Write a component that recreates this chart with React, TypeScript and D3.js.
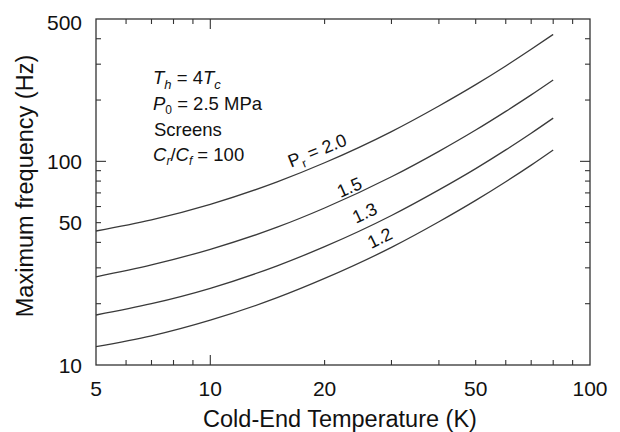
import React, { useRef, useEffect } from "react";
import * as d3 from "d3";

// cold-end temperature (K) sample points
const temps = [5, 7, 10, 15, 20, 30, 40, 50, 60, 70, 80];
// maximum frequency (Hz) for each pressure ratio
const freqPr20 = [45.5, 51.6, 61.5, 79.3, 98.4, 140, 187, 238, 294, 355, 420];
const freqPr15 = [27.1, 31, 37, 47.5, 59, 84, 112, 142.5, 176, 212, 251];
const freqPr13 = [17.6, 20, 23.8, 30.7, 38.1, 54.2, 72.4, 92.1, 113.8, 137.4, 163];
const freqPr12 = [12.3, 13.9, 16.6, 21.4, 26.6, 37.8, 50.5, 64.3, 79.4, 95.8, 113.7];

const series = [freqPr20, freqPr15, freqPr13, freqPr12];

// curve labels: text, anchor temperature, anchor frequency, angle
const labelText = ["2.0", "1.5", "1.3", "1.2"];
const labelT = [19.4, 23.6, 25.9, 28.4];
const labelF = [106, 70, 52.4, 39.5];
const labelAngle = [-22, -24, -25, -26];

const xTickLabels = [5, 10, 20, 50, 100];
const xMajor = [10];
const xMinor = [6, 7, 8, 9, 20, 30, 40, 50, 60, 70, 80, 90];
const yTickLabels = [10, 50, 100, 500];
const yMajor = [100];
const yMinor = [20, 30, 40, 50, 60, 70, 80, 90, 200, 300, 400];

const FONT = "'Liberation Sans', Arial, Helvetica, sans-serif";
const INK = "#333";

const Chart = () => {
  const ref = useRef(null);

  useEffect(() => {
    if (!ref.current) return;
    const svg = d3.select(ref.current);
    svg.selectAll("*").remove();

    const width = 620;
    const height = 432;
    const margins = { left: 96, right: 30, top: 19, bottom: 67 };
    const w = width - margins.left - margins.right;
    const h = height - margins.top - margins.bottom;

    const x = d3.scaleLog().domain([5, 100]).range([0, w]);
    const y = d3.scaleLog().domain([10, 500]).range([h, 0]);

    const g = svg
      .append("g")
      .attr("transform", "translate(" + margins.left + "," + margins.top + ")");

    // frame
    g.append("rect")
      .attr("width", w)
      .attr("height", h)
      .attr("fill", "none")
      .attr("stroke", INK)
      .attr("stroke-width", 1.3);

    // inward ticks on all sides
    const ticks = g.append("g").attr("stroke", INK).attr("stroke-width", 1.1);
    const xt = [
      ...xMajor.map((v) => ({ v, len: 10 })),
      ...xMinor.map((v) => ({ v, len: 5 })),
    ];
    xt.forEach((t) => {
      ticks.append("line").attr("x1", x(t.v)).attr("x2", x(t.v)).attr("y1", h).attr("y2", h - t.len);
      ticks.append("line").attr("x1", x(t.v)).attr("x2", x(t.v)).attr("y1", 0).attr("y2", t.len);
    });
    const yt = [
      ...yMajor.map((v) => ({ v, len: 10 })),
      ...yMinor.map((v) => ({ v, len: 5 })),
    ];
    yt.forEach((t) => {
      ticks.append("line").attr("y1", y(t.v)).attr("y2", y(t.v)).attr("x1", 0).attr("x2", t.len);
      ticks.append("line").attr("y1", y(t.v)).attr("y2", y(t.v)).attr("x1", w).attr("x2", w - t.len);
    });

    // tick labels
    g.append("g")
      .selectAll("text")
      .data(xTickLabels)
      .enter()
      .append("text")
      .attr("x", (d) => x(d))
      .attr("y", h + 31)
      .attr("text-anchor", "middle")
      .attr("font-family", FONT)
      .attr("font-size", 21)
      .attr("fill", "#111")
      .text((d) => d);

    g.append("g")
      .selectAll("text")
      .data(yTickLabels)
      .enter()
      .append("text")
      .attr("x", -14)
      .attr("y", (d) => Math.max(y(d), 3.5))
      .attr("dy", "0.36em")
      .attr("text-anchor", "end")
      .attr("font-family", FONT)
      .attr("font-size", 21)
      .attr("fill", "#111")
      .text((d) => d);

    // axis titles
    svg
      .append("text")
      .attr("x", 340)
      .attr("y", 427)
      .attr("text-anchor", "middle")
      .attr("font-family", FONT)
      .attr("font-size", 23.5)
      .attr("fill", "#111")
      .text("Cold-End Temperature (K)");

    svg
      .append("text")
      .attr("transform", "translate(33,186) rotate(-90)")
      .attr("text-anchor", "middle")
      .attr("font-family", FONT)
      .attr("font-size", 23.5)
      .attr("fill", "#111")
      .text("Maximum frequency (Hz)");

    // curves
    const line = d3
      .line()
      .x((d) => x(d[0]))
      .y((d) => y(d[1]))
      .curve(d3.curveMonotoneX);

    series.forEach((s) => {
      g.append("path")
        .datum(temps.map((t, i) => [t, s[i]]))
        .attr("d", line)
        .attr("fill", "none")
        .attr("stroke", "#3a3a3a")
        .attr("stroke-width", 1.3);
    });

    // curve labels
    labelText.forEach((txt, i) => {
      const t = g
        .append("text")
        .attr(
          "transform",
          "translate(" + x(labelT[i]) + "," + y(labelF[i]) + ") rotate(" + labelAngle[i] + ")"
        )
        .attr("text-anchor", "middle")
        .attr("font-family", FONT)
        .attr("font-size", 18)
        .attr("fill", "#111");
      if (i === 0) {
        t.append("tspan").text("P");
        t.append("tspan").attr("font-size", 12).attr("dy", 5).text("r");
        t.append("tspan").attr("dy", -5).text(" = " + txt);
      } else {
        t.text(txt);
      }
    });

    // parameter note
    const note = svg
      .append("g")
      .attr("font-family", FONT)
      .attr("font-size", 18.5)
      .attr("fill", "#111");

    const l1 = note.append("text").attr("x", 153).attr("y", 84);
    l1.append("tspan").attr("font-style", "italic").text("T");
    l1.append("tspan").attr("font-style", "italic").attr("font-size", 13).attr("dy", 5).text("h");
    l1.append("tspan").attr("dy", -5).text(" = 4");
    l1.append("tspan").attr("font-style", "italic").text("T");
    l1.append("tspan").attr("font-style", "italic").attr("font-size", 13).attr("dy", 5).text("c");

    const l2 = note.append("text").attr("x", 153).attr("y", 109.5);
    l2.append("tspan").attr("font-style", "italic").text("P");
    l2.append("tspan").attr("font-size", 12).attr("dy", 4).text("0");
    l2.append("tspan").attr("dy", -4).text(" = 2.5 MPa");

    note.append("text").attr("x", 154).attr("y", 136).text("Screens");

    const l4 = note.append("text").attr("x", 153).attr("y", 161);
    l4.append("tspan").attr("font-style", "italic").text("C");
    l4.append("tspan").attr("font-style", "italic").attr("font-size", 12).attr("dy", 4).text("r");
    l4.append("tspan").attr("dy", -4).text("/");
    l4.append("tspan").attr("font-style", "italic").text("C");
    l4.append("tspan").attr("font-style", "italic").attr("font-size", 12).attr("dy", 4).text("f");
    l4.append("tspan").attr("dy", -4).text(" = 100");
  }, []);

  return (
    <svg
      ref={ref}
      width={620}
      height={432}
      style={{ position: "absolute", left: 0, top: 0, background: "#fff" }}
    />
  );
};

export default function App() {
  return <Chart />;
}
